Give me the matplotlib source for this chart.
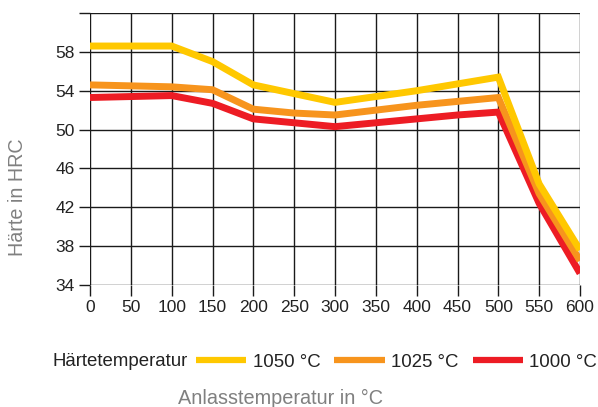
import numpy as np
import matplotlib.pyplot as plt
from matplotlib.lines import Line2D

plt.rcParams['font.family'] = ['Liberation Sans', 'DejaVu Sans']

# Anlasstemperatur (x) and Haerte for each Haertetemperatur
temps = [0, 50, 100, 150, 200, 250, 300, 350, 400, 450, 500, 550, 600]
hrc_1050 = [58.6, 58.6, 58.6, 57.0, 54.6, 53.7, 52.8, 53.4, 54.0, 54.7, 55.4, 44.4, 37.6]
hrc_1025 = [54.6, 54.5, 54.4, 54.1, 52.1, 51.7, 51.5, 52.0, 52.5, 52.9, 53.3, 43.4, 36.5]
hrc_1000 = [53.3, 53.4, 53.5, 52.7, 51.1, 50.7, 50.3, 50.7, 51.1, 51.5, 51.8, 42.4, 35.2]
series_labels = ['1050 °C', '1025 °C', '1000 °C']
colors = ['#FFC800', '#F7941D', '#ED1C24']

x_ticks = list(range(0, 601, 50))
y_ticks = list(range(34, 63, 4))

W, H = 598, 407
fig = plt.figure(figsize=(W / 100, H / 100), dpi=100)
ax = fig.add_axes([90 / W, 1 - 285 / H, 490 / W, 272 / H])

ax.set_xlim(0, 600)
ax.set_ylim(34, 62)
ax.set_xticks(x_ticks)
ax.set_yticks(y_ticks)
ax.set_yticklabels([str(v) if v < 62 else '' for v in y_ticks])
ax.grid(True, color='#1a1a1a', linewidth=1.0)
ax.set_axisbelow(True)
for s in ax.spines.values():
    s.set_visible(False)
ax.tick_params(direction='out', length=8, width=1.0, color='#1a1a1a',
               labelsize=12.5, labelcolor='#222222', pad=3)

for ys, c in zip([hrc_1000, hrc_1025, hrc_1050], colors[::-1]):
    ax.plot(temps, ys, color=c, linewidth=5, solid_joinstyle='miter',
            solid_capstyle='butt')

# legend row
fig.text(53 / W, 1 - 362 / H, 'Härtetemperatur', fontsize=13.4,
         color='#222222', va='center', ha='left')
handles = [Line2D([], [], color=c, linewidth=4.5, solid_capstyle='butt') for c in colors]
fig.legend(handles, series_labels, loc='center left',
           bbox_to_anchor=(196 / W, 1 - 362 / H), ncol=3, frameon=False,
           fontsize=13.4, handlelength=2.7, handletextpad=0.35,
           columnspacing=0.75, borderpad=0, borderaxespad=0,
           labelcolor='#222222')

fig.text(280 / W, 1 - 404 / H, 'Anlasstemperatur in °C', fontsize=14.3,
         color='#808080', ha='center', va='baseline')
fig.text(18 / W, 1 - 197 / H, 'Härte in HRC', fontsize=14.2,
         color='#808080', ha='center', va='center', rotation=90)

fig.savefig('out.png', dpi=100)
